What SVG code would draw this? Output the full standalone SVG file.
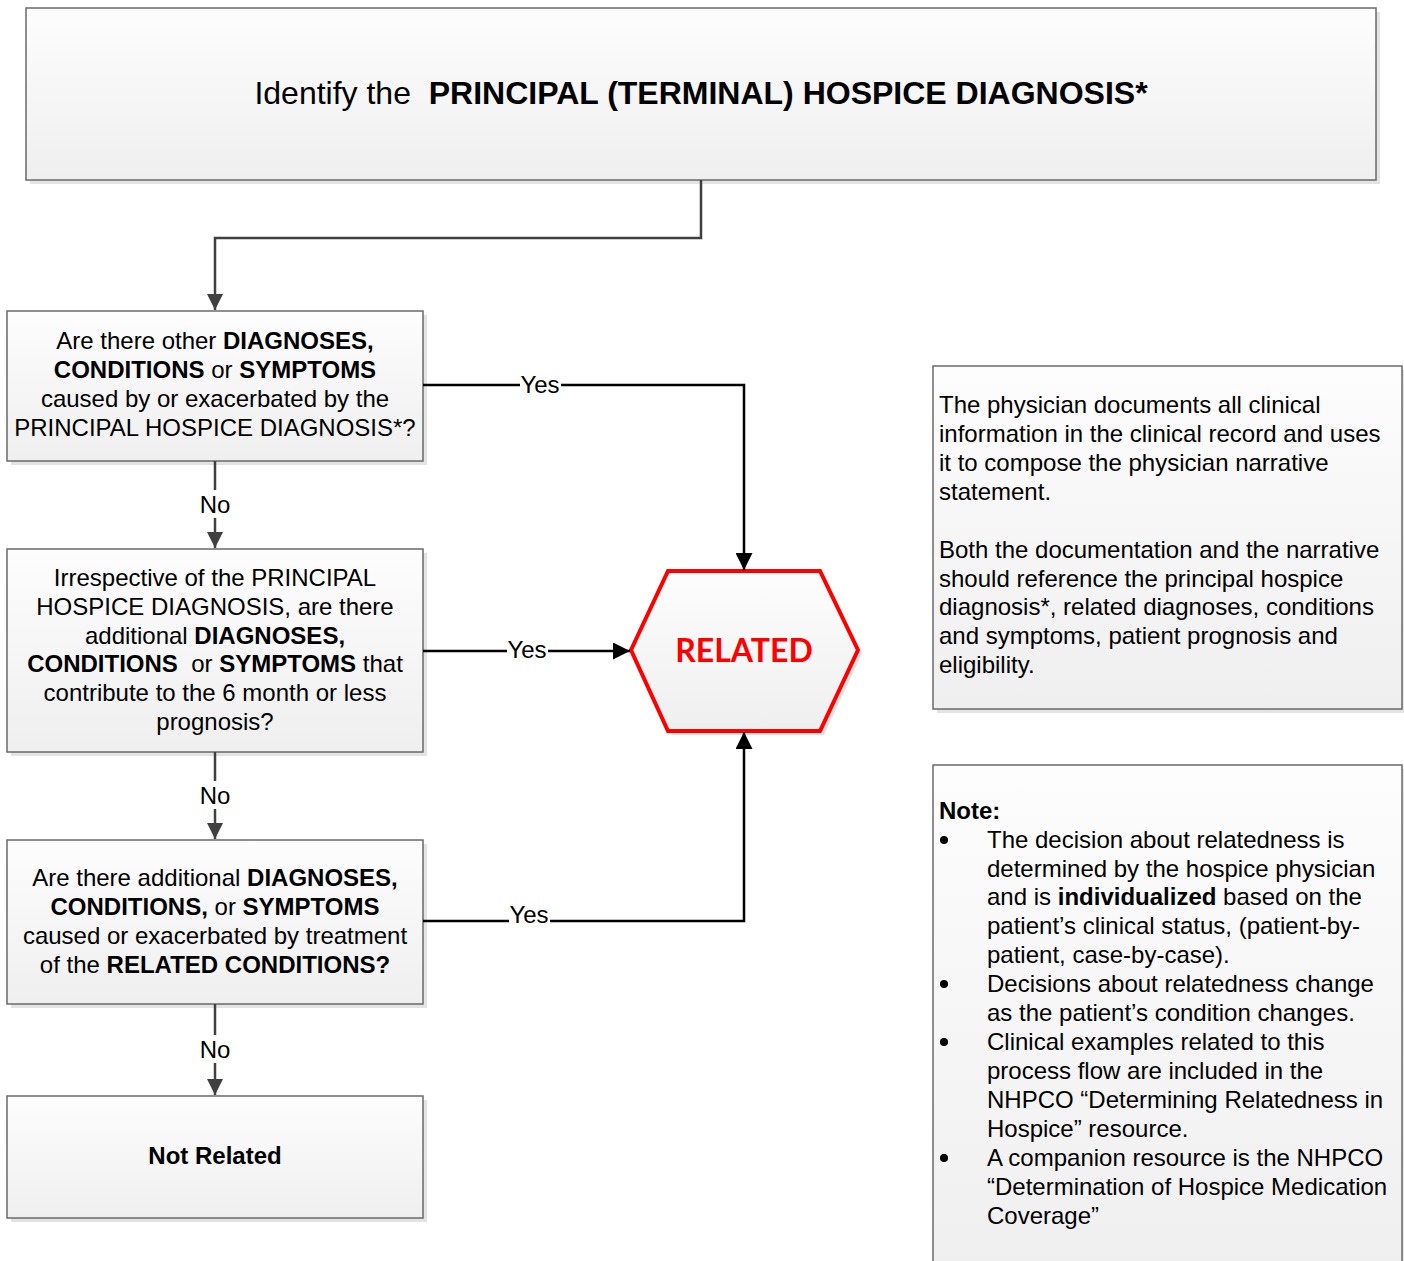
<svg xmlns="http://www.w3.org/2000/svg" width="1404" height="1261" viewBox="0 0 1404 1261">
<defs>
<linearGradient id="g" x1="0" y1="0" x2="0" y2="1">
<stop offset="0" stop-color="#fdfdfd"/>
<stop offset="1" stop-color="#efefef"/>
</linearGradient>
<marker id="ag" viewBox="0 0 16 16" refX="16" refY="8" markerWidth="16" markerHeight="16" markerUnits="userSpaceOnUse" orient="auto">
<path d="M0,0 L16,8 L0,16 Z" fill="#404040"/>
</marker>
<marker id="ak" viewBox="0 0 17 17" refX="17" refY="8.5" markerWidth="17" markerHeight="17" markerUnits="userSpaceOnUse" orient="auto">
<path d="M0,0 L17,8.5 L0,17 Z" fill="#000"/>
</marker>
</defs>
<style>
.box{fill:url(#g);stroke:#6a6a6a;stroke-width:1.5}
.sh{fill:#e3e3e3}
text{font-family:"Liberation Sans",Arial,sans-serif;font-size:24px;fill:#000}
.c{text-anchor:middle}
.b{font-weight:bold}
.lg{fill:none;stroke:#404040;stroke-width:2.5}
.lk{fill:none;stroke:#000;stroke-width:2.5}
.lbl{fill:#fff}
</style>
<rect width="1404" height="1261" fill="#fff"/>

<g id="n-title">
<rect class="sh" x="30" y="12" width="1350" height="172"/>
<rect class="box" x="26" y="8" width="1350" height="172"/>
<text x="701" y="104" class="c" style="font-size:32px" xml:space="preserve">Identify the  <tspan class="b">PRINCIPAL (TERMINAL) HOSPICE DIAGNOSIS*</tspan></text>
</g>

<g id="n-q1">
<rect class="sh" x="11" y="315" width="416" height="150"/>
<rect class="box" x="7" y="311" width="416" height="150"/>
<text x="215" y="349" class="c">Are there other <tspan class="b">DIAGNOSES,</tspan></text>
<text x="215" y="378" class="c"><tspan class="b">CONDITIONS</tspan> or <tspan class="b">SYMPTOMS</tspan></text>
<text x="215" y="407" class="c">caused by or exacerbated by the</text>
<text x="215" y="436" class="c">PRINCIPAL HOSPICE DIAGNOSIS*?</text>
</g>

<g id="n-q2">
<rect class="sh" x="11" y="553" width="416" height="203"/>
<rect class="box" x="7" y="549" width="416" height="203"/>
<text x="215" y="586" class="c">Irrespective of the PRINCIPAL</text>
<text x="215" y="615" class="c">HOSPICE DIAGNOSIS, are there</text>
<text x="215" y="644" class="c">additional <tspan class="b">DIAGNOSES,</tspan></text>
<text x="215" y="672" class="c" xml:space="preserve"><tspan class="b">CONDITIONS</tspan>  or <tspan class="b">SYMPTOMS</tspan> that</text>
<text x="215" y="701" class="c">contribute to the 6 month or less</text>
<text x="215" y="730" class="c">prognosis?</text>
</g>

<g id="n-q3">
<rect class="sh" x="11" y="844" width="416" height="164"/>
<rect class="box" x="7" y="840" width="416" height="164"/>
<text x="215" y="886" class="c">Are there additional <tspan class="b">DIAGNOSES,</tspan></text>
<text x="215" y="915" class="c"><tspan class="b">CONDITIONS,</tspan> or <tspan class="b">SYMPTOMS</tspan></text>
<text x="215" y="944" class="c">caused or exacerbated by treatment</text>
<text x="215" y="973" class="c">of the <tspan class="b">RELATED CONDITIONS?</tspan></text>
</g>

<g id="n-notrelated">
<rect class="sh" x="11" y="1100" width="416" height="122"/>
<rect class="box" x="7" y="1096" width="416" height="122"/>
<text x="215" y="1164" class="c b">Not Related</text>
</g>

<g id="n-related">
<polygon points="672,575 824,575 862,654 824,735 672,735 635,654" fill="#e3e3e3"/>
<polygon points="668,571 820,571 858,650 820,731 668,731 631,650" fill="url(#g)" stroke="#ff0000" stroke-width="4" stroke-linejoin="miter"/>
<text x="744" y="662" class="c" style="font-family:Lato,'Open Sans',sans-serif;font-weight:bold;font-size:32px;fill:#ff0000">RELATED</text>
</g>

<g id="n-info">
<rect class="sh" x="937" y="370" width="469" height="343"/>
<rect class="box" x="933" y="366" width="469" height="343" stroke="#333"/>
<text x="939" y="413">The physician documents all clinical</text>
<text x="939" y="442">information in the clinical record and uses</text>
<text x="939" y="471">it to compose the physician narrative</text>
<text x="939" y="500">statement.</text>
<text x="939" y="558">Both the documentation and the narrative</text>
<text x="939" y="587">should reference the principal hospice</text>
<text x="939" y="615">diagnosis*, related diagnoses, conditions</text>
<text x="939" y="644">and symptoms, patient prognosis and</text>
<text x="939" y="673">eligibility.</text>
</g>

<g id="n-note">
<rect class="sh" x="937" y="769" width="469" height="510"/>
<rect class="box" x="933" y="765" width="469" height="510" stroke="#333"/>
<text x="939" y="819" class="b">Note:</text>
<circle cx="944" cy="840" r="4"/>
<circle cx="944" cy="984" r="4"/>
<circle cx="944" cy="1042" r="4"/>
<circle cx="944" cy="1158" r="4"/>
<text x="987" y="848">The decision about relatedness is</text>
<text x="987" y="877">determined by the hospice physician</text>
<text x="987" y="905">and is <tspan class="b">individualized</tspan> based on the</text>
<text x="987" y="934">patient’s clinical status, (patient-by-</text>
<text x="987" y="963">patient, case-by-case).</text>
<text x="987" y="992">Decisions about relatedness change</text>
<text x="987" y="1021">as the patient’s condition changes.</text>
<text x="987" y="1050">Clinical examples related to this</text>
<text x="987" y="1079">process flow are included in the</text>
<text x="987" y="1108">NHPCO “Determining Relatedness in</text>
<text x="987" y="1137">Hospice” resource.</text>
<text x="987" y="1166">A companion resource is the NHPCO</text>
<text x="987" y="1195">“Determination of Hospice Medication</text>
<text x="987" y="1224">Coverage”</text>
</g>

<g id="connectors">
<path class="lg" d="M701,180 V238 H215 V310" marker-end="url(#ag)"/>
<path class="lg" d="M215,461 V548" marker-end="url(#ag)"/>
<path class="lg" d="M215,752 V839" marker-end="url(#ag)"/>
<path class="lg" d="M215,1004 V1095" marker-end="url(#ag)"/>
<path class="lk" d="M423,385 H744 V570" marker-end="url(#ak)"/>
<path class="lk" d="M423,651 H630" marker-end="url(#ak)"/>
<path class="lk" d="M423,921 H744 V732" marker-end="url(#ak)"/>
<rect class="lbl" x="199" y="490" width="32" height="28"/>
<text x="215" y="513" class="c">No</text>
<rect class="lbl" x="199" y="781" width="32" height="28"/>
<text x="215" y="804" class="c">No</text>
<rect class="lbl" x="199" y="1035" width="32" height="28"/>
<text x="215" y="1058" class="c">No</text>
<rect class="lbl" x="520" y="372" width="41" height="26"/>
<text x="540" y="393" class="c">Yes</text>
<rect class="lbl" x="507" y="638" width="41" height="26"/>
<text x="527" y="658" class="c">Yes</text>
<rect class="lbl" x="509" y="903" width="41" height="24"/>
<text x="529" y="923" class="c">Yes</text>
</g>
</svg>
